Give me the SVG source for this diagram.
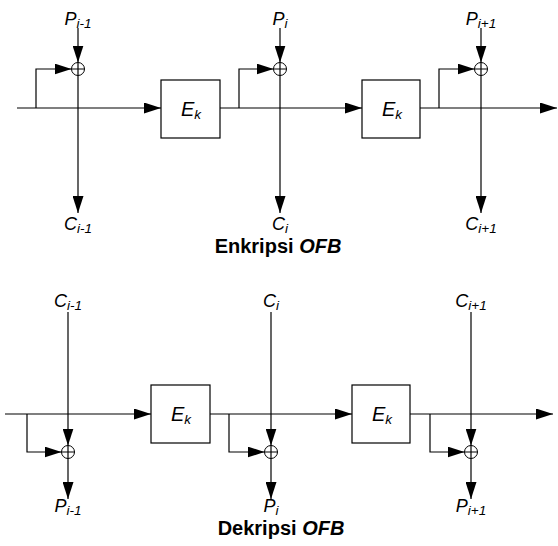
<svg xmlns="http://www.w3.org/2000/svg" width="558" height="546" viewBox="0 0 558 546">
<style>
.ln{stroke:#000;stroke-width:1.2;fill:none}
.ar{stroke:#000;stroke-width:1.2;fill:none;marker-end:url(#ah)}
.box{stroke:#000;stroke-width:1.2;fill:#fff}
.xor{stroke:#000;stroke-width:1;fill:#fff}
.lb{font-family:"Liberation Sans",Arial,sans-serif;font-style:italic;font-size:18px;fill:#000}
.sb{font-size:13.5px}
.ek{font-family:"Liberation Sans",Arial,sans-serif;font-style:italic;font-size:20px;fill:#000}
.tt{font-family:"Liberation Sans",Arial,sans-serif;font-weight:bold;font-size:20px;fill:#000}
</style>
<defs>
<marker id="ah" markerUnits="userSpaceOnUse" markerWidth="17" markerHeight="11" refX="17" refY="5.5" orient="auto">
<path d="M0,0 L17,5.5 L0,11 z" fill="#000"/>
</marker>
</defs>
<g id="connectors">
<line class="ar" x1="17" y1="108" x2="161" y2="108"/>
<line class="ar" x1="220" y1="108" x2="362" y2="108"/>
<line class="ar" x1="420" y1="108" x2="557" y2="108"/>
<line class="ar" x1="78" y1="28" x2="78" y2="62.5"/>
<line class="ar" x1="280" y1="28" x2="280" y2="62.5"/>
<line class="ar" x1="481" y1="28" x2="481" y2="62.5"/>
<polyline class="ar" points="36,108 36,69 71.5,69"/>
<polyline class="ar" points="239,108 239,69 273.5,69"/>
<polyline class="ar" points="439,108 439,69 474.5,69"/>
<line class="ar" x1="78" y1="75.5" x2="78" y2="213"/>
<line class="ar" x1="280" y1="75.5" x2="280" y2="213"/>
<line class="ar" x1="481" y1="75.5" x2="481" y2="213"/>
<line class="ar" x1="5" y1="414" x2="151" y2="414"/>
<line class="ar" x1="210" y1="414" x2="352" y2="414"/>
<line class="ar" x1="410" y1="414" x2="553" y2="414"/>
<line class="ar" x1="68" y1="312" x2="68" y2="445.5"/>
<line class="ar" x1="271" y1="312" x2="271" y2="445.5"/>
<line class="ar" x1="471" y1="312" x2="471" y2="445.5"/>
<polyline class="ar" points="27,414 27,452 61.5,452"/>
<polyline class="ar" points="229,414 229,452 264.5,452"/>
<polyline class="ar" points="430,414 430,452 464.5,452"/>
<line class="ar" x1="68" y1="458.5" x2="68" y2="499"/>
<line class="ar" x1="271" y1="458.5" x2="271" y2="499"/>
<line class="ar" x1="471" y1="458.5" x2="471" y2="499"/>
</g>
<g id="ek1"><rect class="box" x="161" y="80" width="59" height="58"/><text class="ek" x="181" y="116">E<tspan class="sb" dy="3">k</tspan></text></g>
<g id="ek2"><rect class="box" x="362" y="80" width="58" height="58"/><text class="ek" x="382" y="116">E<tspan class="sb" dy="3">k</tspan></text></g>
<g id="ek3"><rect class="box" x="151" y="385" width="59" height="58"/><text class="ek" x="171" y="421">E<tspan class="sb" dy="3">k</tspan></text></g>
<g id="ek4"><rect class="box" x="352" y="385" width="58" height="58"/><text class="ek" x="372" y="421">E<tspan class="sb" dy="3">k</tspan></text></g>
<g id="xor1"><circle class="xor" cx="78" cy="69" r="6.5"/><path class="ln" d="M71.5,69H84.5M78,62.5V75.5" stroke-width="1"/></g>
<g id="xor2"><circle class="xor" cx="280" cy="69" r="6.5"/><path class="ln" d="M273.5,69H286.5M280,62.5V75.5" stroke-width="1"/></g>
<g id="xor3"><circle class="xor" cx="481" cy="69" r="6.5"/><path class="ln" d="M474.5,69H487.5M481,62.5V75.5" stroke-width="1"/></g>
<g id="xor4"><circle class="xor" cx="68" cy="452" r="6.5"/><path class="ln" d="M61.5,452H74.5M68,445.5V458.5" stroke-width="1"/></g>
<g id="xor5"><circle class="xor" cx="271" cy="452" r="6.5"/><path class="ln" d="M264.5,452H277.5M271,445.5V458.5" stroke-width="1"/></g>
<g id="xor6"><circle class="xor" cx="471" cy="452" r="6.5"/><path class="ln" d="M464.5,452H477.5M471,445.5V458.5" stroke-width="1"/></g>
<g id="labels">
<text class="lb" x="78" y="25" text-anchor="middle">P<tspan class="sb" dy="3">i-1</tspan></text>
<text class="lb" x="280" y="25" text-anchor="middle">P<tspan class="sb" dy="3">i</tspan></text>
<text class="lb" x="481" y="25" text-anchor="middle">P<tspan class="sb" dy="3">i+1</tspan></text>
<text class="lb" x="78" y="230" text-anchor="middle">C<tspan class="sb" dy="3">i-1</tspan></text>
<text class="lb" x="280" y="230" text-anchor="middle">C<tspan class="sb" dy="3">i</tspan></text>
<text class="lb" x="481" y="230" text-anchor="middle">C<tspan class="sb" dy="3">i+1</tspan></text>
<text class="lb" x="68" y="307" text-anchor="middle">C<tspan class="sb" dy="3">i-1</tspan></text>
<text class="lb" x="271" y="307" text-anchor="middle">C<tspan class="sb" dy="3">i</tspan></text>
<text class="lb" x="471" y="307" text-anchor="middle">C<tspan class="sb" dy="3">i+1</tspan></text>
<text class="lb" x="68" y="512" text-anchor="middle">P<tspan class="sb" dy="3">i-1</tspan></text>
<text class="lb" x="271" y="512" text-anchor="middle">P<tspan class="sb" dy="3">i</tspan></text>
<text class="lb" x="471" y="512" text-anchor="middle">P<tspan class="sb" dy="3">i+1</tspan></text>
<text class="tt" x="278" y="253" text-anchor="middle">Enkripsi <tspan font-style="italic">OFB</tspan></text>
<text class="tt" x="281" y="535" text-anchor="middle">Dekripsi <tspan font-style="italic">OFB</tspan></text>
</g>
</svg>
